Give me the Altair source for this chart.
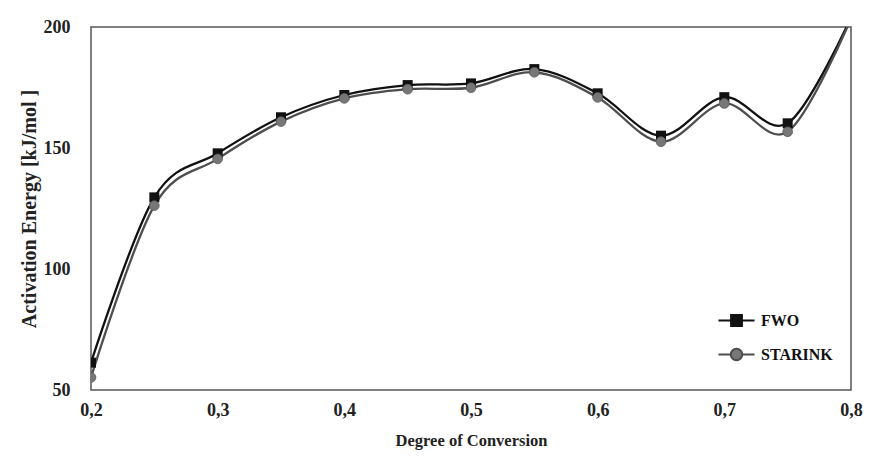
import altair as alt
import pandas as pd

# Degree of conversion (alpha) and activation energies for the two isoconversional methods
alpha = [0.20, 0.25, 0.30, 0.35, 0.40, 0.45, 0.50, 0.55, 0.60, 0.65, 0.70, 0.75, 0.80]
fwo = [61.3, 129.6, 147.8, 162.7, 171.9, 176.0, 176.7, 182.6, 172.6, 155.1, 171.0, 160.2, 204.0]
starink = [55.2, 126.2, 145.5, 160.9, 170.5, 174.3, 174.9, 181.3, 170.9, 152.6, 168.4, 156.7, 203.5]

series_names = ["FWO", "STARINK"]
line_colors = ["#111111", "#4e4e4e"]

rows = []
for a, e1, e2 in zip(alpha, fwo, starink):
    rows.append({"alpha": a, "E": e1, "series": "FWO"})
    rows.append({"alpha": a, "E": e2, "series": "STARINK"})
df = pd.DataFrame(rows)

FONT = "Liberation Serif"

x_enc = alt.X(
    "alpha:Q",
    scale=alt.Scale(domain=[0.2, 0.8], nice=False, zero=False),
    axis=alt.Axis(
        title="Degree of Conversion",
        values=[0.2, 0.3, 0.4, 0.5, 0.6, 0.7, 0.8],
        labelExpr="replace(format(datum.value, '.1f'), '.', ',')",
        labelFlush=False,
        labelFontSize=18,
        ticks=False,
        domain=False,
        grid=False,
        labelPadding=11,
        titlePadding=13,
        titleFontSize=16.5,
    ),
)
y_enc = alt.Y(
    "E:Q",
    scale=alt.Scale(domain=[50, 200], nice=False, zero=False),
    axis=alt.Axis(
        title="Activation Energy [kJ/mol ]",
        values=[50, 100, 150, 200],
        labelFlush=False,
        labelFontSize=18,
        ticks=False,
        domain=False,
        grid=False,
        labelPadding=21,
        titlePadding=4,
        titleFontSize=20,
    ),
)
color_scale = alt.Scale(domain=series_names, range=line_colors)

# legend keys: a short line segment with the series marker in the middle
square_path = "M-1,0H1M-0.3,-0.3H0.3V0.3H-0.3Z"
circle_path = "M-1,0H-0.32M0.32,0H1M0.32,0A0.32,0.32,0,1,1,-0.32,0A0.32,0.32,0,1,1,0.32,0"

lines = alt.Chart(df).mark_line(interpolate="cardinal", strokeWidth=2.3, clip=True).encode(
    x=x_enc,
    y=y_enc,
    color=alt.Color(
        "series:N",
        scale=color_scale,
        legend=alt.Legend(
            title=None,
            orient="none",
            legendX=626,
            legendY=274,
            symbolSize=1300,
            symbolStrokeWidth=2,
            symbolType={"expr": "datum.value === 'FWO' ? '" + square_path + "' : '" + circle_path + "'"},
            symbolFillColor={"expr": "datum.value === 'FWO' ? '#111111' : '#777777'"},
            symbolOpacity=1,
            labelFont=FONT,
            labelFontWeight="bold",
            labelFontSize=16,
            labelColor="#111111",
            labelOffset=5,
            rowPadding=5,
        ),
    ),
    order=alt.Order("alpha:Q"),
)

fwo_pts = alt.Chart(df).transform_filter(alt.datum.series == "FWO").mark_point(
    shape="square", filled=True, size=100, color="#111111", opacity=1, clip=True
).encode(x=x_enc, y=y_enc)

starink_pts = alt.Chart(df).transform_filter(alt.datum.series == "STARINK").mark_point(
    shape="circle", filled=True, size=95, color="#777777", opacity=1,
    stroke="#5a5a5a", strokeWidth=0.8, clip=True,
).encode(x=x_enc, y=y_enc)

chart = (
    alt.layer(lines, fwo_pts, starink_pts)
    .properties(
        width=760,
        height=363,
        autosize=alt.AutoSizeParams(type="none"),
        padding={"left": 91, "top": 27, "right": 32, "bottom": 67},
        background="white",
    )
    .configure_view(stroke="#555555", strokeWidth=1.5)
    .configure_axis(
        labelFont=FONT,
        labelFontWeight="bold",
        labelColor="#222222",
        titleFont=FONT,
        titleFontWeight="bold",
        titleColor="#222222",
    )
)

chart.save("out.html", embed_options={"renderer": "svg", "actions": False})
